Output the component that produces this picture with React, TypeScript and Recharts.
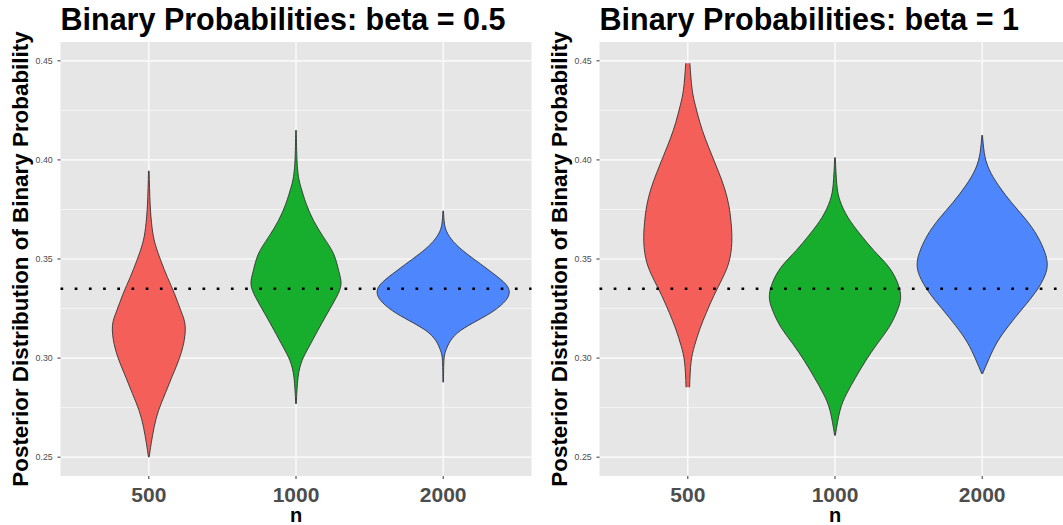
import { ComposedChart, Area, XAxis, YAxis, CartesianGrid, ReferenceLine } from 'recharts'

// sample sizes along the x axis, placed at 1, 2, 3
const groups = ['500', '1000', '2000']
const groupPos = [1, 2, 3]
const probTicks = [0.25, 0.3, 0.35, 0.4, 0.45]
const minorTicks = [0.275, 0.325, 0.375, 0.425]
const trueValue = 0.335

const fills = ['#F45F5A', '#17AE2D', '#4E86FE']

// beta = 0.5 : probability levels and violin half-widths (in group steps)
const b05RedP = [0.3945, 0.3777, 0.3659, 0.3576, 0.3491, 0.3407, 0.3324, 0.3239, 0.3164, 0.3072, 0.2987, 0.2903, 0.282, 0.2735, 0.2651, 0.2568, 0.25]
const b05RedW = [0.002, 0.009, 0.022, 0.043, 0.082, 0.127, 0.175, 0.218, 0.247, 0.236, 0.202, 0.156, 0.111, 0.066, 0.036, 0.016, 0.002]
const b05GreenP = [0.415, 0.3995, 0.3911, 0.3861, 0.3777, 0.3693, 0.3609, 0.3525, 0.3441, 0.3374, 0.3306, 0.3223, 0.3139, 0.3054, 0.2987, 0.2903, 0.2769]
const b05GreenW = [0.002, 0.007, 0.018, 0.034, 0.07, 0.12, 0.188, 0.256, 0.29, 0.306, 0.274, 0.211, 0.148, 0.086, 0.041, 0.014, 0.002]
const b05BlueP = [0.3743, 0.3676, 0.3626, 0.3576, 0.3525, 0.3475, 0.3424, 0.3374, 0.3332, 0.329, 0.3239, 0.3189, 0.3139, 0.3088, 0.3038, 0.2987, 0.2878]
const b05BlueW = [0.002, 0.009, 0.032, 0.084, 0.163, 0.254, 0.345, 0.424, 0.449, 0.424, 0.345, 0.231, 0.118, 0.05, 0.018, 0.005, 0.002]

// beta = 1
const b1RedP = [0.4488, 0.4357, 0.4273, 0.4189, 0.4105, 0.4021, 0.3936, 0.3853, 0.3769, 0.3684, 0.3584, 0.3483, 0.3399, 0.3315, 0.3231, 0.3147, 0.3063, 0.2979, 0.2853]
const b1RedW = [0.014, 0.029, 0.052, 0.082, 0.12, 0.165, 0.211, 0.251, 0.279, 0.294, 0.299, 0.279, 0.233, 0.177, 0.127, 0.082, 0.046, 0.022, 0.012]
const b1GreenP = [0.4012, 0.3878, 0.3794, 0.371, 0.3626, 0.3542, 0.3458, 0.3374, 0.3306, 0.3239, 0.3155, 0.3072, 0.2987, 0.2903, 0.282, 0.2735, 0.2609]
const b1GreenW = [0.002, 0.012, 0.034, 0.088, 0.17, 0.265, 0.367, 0.428, 0.446, 0.423, 0.367, 0.287, 0.209, 0.141, 0.079, 0.034, 0.002]
const b1BlueP = [0.4125, 0.4037, 0.3954, 0.3869, 0.3785, 0.3702, 0.3617, 0.3533, 0.3475, 0.3416, 0.3332, 0.3248, 0.3164, 0.308, 0.2996, 0.292]
const b1BlueW = [0.002, 0.014, 0.046, 0.113, 0.199, 0.294, 0.374, 0.426, 0.442, 0.426, 0.362, 0.272, 0.181, 0.102, 0.046, 0.002]

// each row spans [pos - w, pos + w] at probability p
const violin = (pos: number, ps: number[], ws: number[]) =>
  ps.map((p, i) => ({ p, span: [pos - ws[i], pos + ws[i]] }))

const beta05 = [
  violin(1, b05RedP, b05RedW),
  violin(2, b05GreenP, b05GreenW),
  violin(3, b05BlueP, b05BlueW),
]
const beta1 = [
  violin(1, b1RedP, b1RedW),
  violin(2, b1GreenP, b1GreenW),
  violin(3, b1BlueP, b1BlueW),
]

const FONT = '"Liberation Sans", Arial, sans-serif'
const W = 531.5
const H = 525
const PLOT_LEFT = 60.5
const PLOT_TOP = 42
const X_AXIS_H = 49

type PanelProps = {
  left: number
  title: string
  violins: { p: number; span: number[] }[][]
}

function Panel({ left, title, violins }: PanelProps) {
  const plotW = W - PLOT_LEFT
  const plotMid = PLOT_TOP + (H - PLOT_TOP - X_AXIS_H) / 2
  return (
    <div style={{ position: 'absolute', left, top: 0, width: W, height: H }}>
      <ComposedChart
        layout="vertical"
        width={W}
        height={H}
        margin={{ top: PLOT_TOP, right: 0, bottom: 0, left: 0 }}
        style={{ fontFamily: FONT }}
      >
        <CartesianGrid fill="#E6E6E6" stroke="#fff" strokeWidth={0.6} vertical={false} horizontalValues={minorTicks} />
        <CartesianGrid stroke="#fff" strokeWidth={1.2} horizontalValues={probTicks} verticalValues={groupPos} />
        <XAxis
          type="number"
          domain={[0.4, 3.6]}
          ticks={groupPos}
          tickFormatter={(v) => groups[v - 1]}
          height={X_AXIS_H}
          axisLine={false}
          tickSize={3}
          tickMargin={8}
          tickLine={{ stroke: '#333333' }}
          tick={{ fill: '#4D4D4D', fontSize: 21, fontWeight: 'bold' }}
        />
        <YAxis
          type="number"
          dataKey="p"
          domain={[0.2405, 0.4595]}
          ticks={probTicks}
          reversed
          tickFormatter={(v) => v.toFixed(2)}
          width={PLOT_LEFT}
          axisLine={false}
          tickSize={3}
          tickMargin={4.8}
          tickLine={{ stroke: '#333333' }}
          tick={{ fill: '#4D4D4D', fontSize: 8.8 }}
        />
        {violins.map((d, i) => (
          <Area
            key={i}
            data={d}
            dataKey="span"
            type="natural"
            fill={fills[i]}
            fillOpacity={1}
            stroke="#333333"
            strokeWidth={0.9}
            dot={false}
            activeDot={false}
            isAnimationActive={false}
          />
        ))}
        <ReferenceLine y={trueValue} stroke="#000" strokeWidth={2.7} strokeDasharray="2.7 11.5" />
      </ComposedChart>
      <svg
        width={W}
        height={H}
        style={{ position: 'absolute', left: 0, top: 0, pointerEvents: 'none', fontFamily: FONT, fontWeight: 'bold' }}
      >
        <text x={PLOT_LEFT} y={29.5} fontSize={30.5} fill="#000">
          {title}
        </text>
        <text x={20} y={plotMid} fontSize={22.4} fill="#000" textAnchor="middle" dominantBaseline="central" transform={`rotate(-90 20 ${plotMid})`}>
          Posterior Distribution of Binary Probability
        </text>
        <text x={PLOT_LEFT + plotW / 2} y={522} fontSize={20} fill="#000" textAnchor="middle">
          n
        </text>
      </svg>
    </div>
  )
}

export default function App() {
  return (
    <div style={{ position: 'absolute', left: 0, top: 0, width: 1063, height: 525, overflow: 'hidden', background: '#fff' }}>
      <Panel left={0} title="Binary Probabilities: beta = 0.5" violins={beta05} />
      <Panel left={538.5} title="Binary Probabilities: beta = 1" violins={beta1} />
    </div>
  )
}
